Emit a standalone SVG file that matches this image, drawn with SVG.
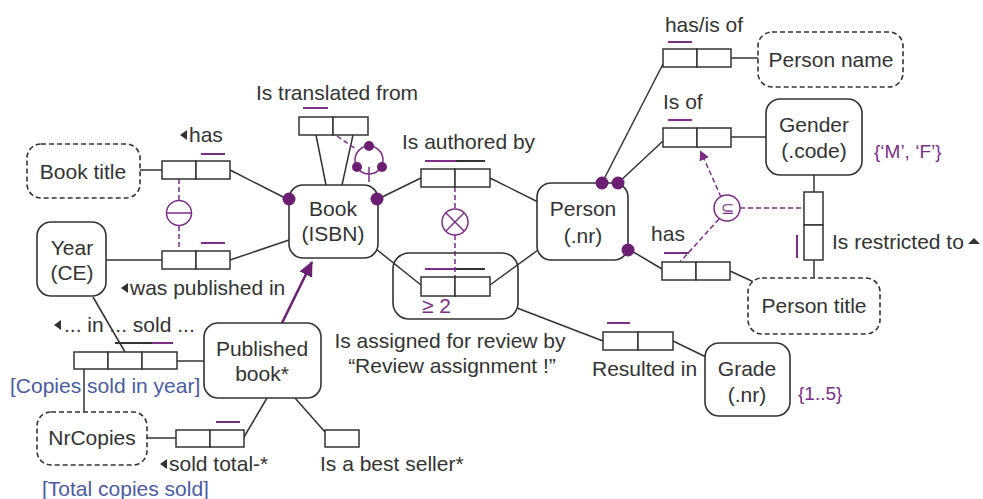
<svg xmlns="http://www.w3.org/2000/svg" width="983" height="499" viewBox="0 0 983 499">
<defs>
<style>
text{font-family:"Liberation Sans",Arial,sans-serif;font-size:21px;fill:#333}
.c{text-anchor:middle}
.p{fill:#7a2f86}
.b{fill:#4a5ba0}
.ent{fill:#fff;stroke:#333;stroke-width:1.6}
.val{fill:#fff;stroke:#333;stroke-width:1.6;stroke-dasharray:5 3}
.role{fill:#fff;stroke:#333;stroke-width:1.5}
.ln{stroke:#333;stroke-width:1.5;fill:none}
.uc{stroke:#7a2f86;stroke-width:2}
.ucb{stroke:#333;stroke-width:2}
.cons{stroke:#7a2f86;stroke-width:1.5;fill:none}
.dash{stroke:#7a2f86;stroke-width:1.5;fill:none;stroke-dasharray:5 3}
.dot{fill:#6b1f70}
</style>
<marker id="ah" markerWidth="10" markerHeight="10" refX="8" refY="5" orient="auto" markerUnits="userSpaceOnUse">
<path d="M0,0 L10,5 L0,10 z" fill="#7a2f86"/>
</marker>
<marker id="ahb" markerWidth="16" markerHeight="16" refX="14" refY="8" orient="auto" markerUnits="userSpaceOnUse">
<path d="M0,1 L15,8 L0,15 z" fill="#6b1f70"/>
</marker>
</defs>
<rect width="983" height="499" fill="#fff"/>

<g id="connectors">
<line class="ln" x1="140" y1="170" x2="162" y2="170"/>
<line class="ln" x1="230" y1="170" x2="287" y2="199"/>
<line class="ln" x1="106" y1="260" x2="162" y2="260"/>
<line class="ln" x1="230" y1="260" x2="289" y2="240"/>
<line class="ln" x1="316" y1="135" x2="326" y2="185"/>
<line class="ln" x1="353" y1="135" x2="342" y2="185"/>
<line class="ln" x1="378" y1="199" x2="421" y2="178"/>
<line class="ln" x1="490" y1="178" x2="538" y2="202"/>
<line class="ln" x1="376" y1="249" x2="421" y2="285"/>
<line class="ln" x1="490" y1="285" x2="538" y2="250"/>
<line class="ln" x1="517" y1="308" x2="603" y2="341"/>
<line class="ln" x1="673" y1="341" x2="706" y2="357"/>
<line class="ln" x1="602" y1="183" x2="663" y2="64"/>
<line class="ln" x1="731" y1="58" x2="758" y2="58"/>
<line class="ln" x1="618" y1="183" x2="663" y2="141"/>
<line class="ln" x1="731" y1="137" x2="766" y2="137"/>
<line class="ln" x1="630" y1="250" x2="662" y2="269"/>
<line class="ln" x1="730" y1="271" x2="756" y2="283"/>
<line class="ln" x1="814" y1="175" x2="814" y2="192"/>
<line class="ln" x1="814" y1="260" x2="814" y2="278"/>
<line class="ln" x1="93" y1="297" x2="125" y2="352"/>
<line class="ln" x1="177" y1="361" x2="204" y2="361"/>
<line class="ln" x1="84" y1="369" x2="84" y2="412"/>
<line class="ln" x1="147" y1="438" x2="176" y2="438"/>
<line class="ln" x1="244" y1="437" x2="267" y2="398"/>
<line class="ln" x1="295" y1="398" x2="325" y2="432"/>
<line x1="282" y1="323" x2="312" y2="262" stroke="#6b1f70" stroke-width="2.5" marker-end="url(#ahb)"/>
<line class="dash" x1="179" y1="179" x2="179" y2="200"/>
<line class="dash" x1="179" y1="226" x2="179" y2="250"/>
<line class="dash" x1="455" y1="187" x2="455" y2="209"/>
<line class="dash" x1="455" y1="235" x2="455" y2="277"/>
<line class="dash" x1="337" y1="136" x2="356" y2="149"/>
<line class="dash" x1="721" y1="197" x2="701" y2="152" marker-end="url(#ah)"/>
<line class="dash" x1="740" y1="208" x2="804" y2="208"/>
<line class="dash" x1="719" y1="219" x2="680" y2="262"/>
</g>

<g id="book-title"><rect class="val" x="27" y="144" width="113" height="54" rx="14"/><text class="c" x="83" y="179">Book title</text></g>
<g id="year"><rect class="ent" x="37" y="222" width="69" height="74" rx="14"/><text class="c" x="72" y="255">Year</text><text class="c" x="72" y="280">(CE)</text></g>
<g id="book"><rect class="ent" x="289" y="185" width="89" height="73" rx="14"/><text class="c" x="333" y="216">Book</text><text class="c" x="333" y="241">(ISBN)</text>
<circle class="dot" cx="289" cy="199" r="6.5"/><circle class="dot" cx="377" cy="199" r="6.5"/></g>
<g id="person"><rect class="ent" x="537" y="183" width="91" height="77" rx="14"/><text class="c" x="583" y="216">Person</text><text class="c" x="583" y="243">(.nr)</text>
<circle class="dot" cx="602" cy="183" r="6.5"/><circle class="dot" cx="618" cy="183" r="6.5"/><circle class="dot" cx="628" cy="250" r="6.5"/></g>
<g id="person-name"><rect class="val" x="758" y="32" width="145" height="55" rx="14"/><text class="c" x="831" y="67">Person name</text></g>
<g id="gender"><rect class="ent" x="766" y="99" width="96" height="76" rx="14"/><text class="c" x="814" y="132">Gender</text><text class="c" x="814" y="158">(.code)</text>
<text class="p" x="874" y="158" style="font-size:19px">{‘M’, ‘F’}</text></g>
<g id="person-title"><rect class="val" x="748" y="278" width="132" height="56" rx="14"/><text class="c" x="814" y="313">Person title</text></g>
<g id="grade"><rect class="ent" x="705" y="343" width="85" height="73" rx="14"/><text class="c" x="747" y="376">Grade</text><text class="c" x="747" y="402">(.nr)</text>
<text class="p" x="798" y="400" style="font-size:19px">{1..5}</text></g>
<g id="published-book"><rect class="ent" x="204" y="323" width="117" height="75" rx="14"/><text class="c" x="262" y="356">Published</text><text class="c" x="262" y="381">book*</text></g>
<g id="nrcopies"><rect class="val" x="37" y="412" width="110" height="53" rx="14"/><text class="c" x="92" y="445">NrCopies</text></g>

<g id="ft-has-title">
<rect class="role" x="162" y="161" width="34" height="18"/><rect class="role" x="196" y="161" width="34" height="18"/>
<line class="uc" x1="201" y1="154" x2="225" y2="154"/>
<polygon points="180,135 187,130 187,140" fill="#333"/><text x="189" y="142">has</text>
</g>
<g id="ft-published-in">
<rect class="role" x="162" y="251" width="34" height="18"/><rect class="role" x="196" y="251" width="34" height="18"/>
<line class="uc" x1="201" y1="243" x2="225" y2="243"/>
<polygon points="121,288 128,283 128,293" fill="#333"/><text x="130" y="295">was published in</text>
</g>
<g id="eq-constraint"><circle class="cons" cx="179" cy="213" r="12.5"/><line class="cons" x1="167" y1="213" x2="191" y2="213"/></g>
<g id="ft-translated">
<rect class="role" x="299" y="117" width="34" height="18"/><rect class="role" x="333" y="117" width="35" height="18"/>
<line class="uc" x1="303" y1="108" x2="328" y2="108"/>
<text class="c" x="337" y="100">Is translated from</text>
</g>
<g id="ring-constraint"><circle class="cons" cx="369" cy="160" r="14"/><line class="cons" x1="369" y1="167" x2="369" y2="182"/>
<circle class="dot" cx="369" cy="146" r="5"/><circle class="dot" cx="357" cy="167" r="5"/><circle class="dot" cx="382" cy="167" r="5"/></g>
<g id="ft-authored">
<rect class="role" x="421" y="169" width="34" height="18"/><rect class="role" x="455" y="169" width="35" height="18"/>
<line class="uc" x1="425" y1="161" x2="456" y2="161"/><line class="ucb" x1="456" y1="161" x2="485" y2="161"/>
<text x="402" y="149">Is authored by</text>
</g>
<g id="excl-constraint"><circle class="cons" cx="455" cy="222" r="13"/><line class="cons" x1="446" y1="213" x2="464" y2="231"/><line class="cons" x1="464" y1="213" x2="446" y2="231"/></g>
<g id="ft-review">
<rect x="393" y="253" width="125" height="66" rx="16" fill="none" stroke="#333" stroke-width="1.6"/>
<rect class="role" x="421" y="277" width="34" height="19"/><rect class="role" x="455" y="277" width="35" height="19"/>
<line class="uc" x1="425" y1="269" x2="456" y2="269"/><line class="ucb" x1="456" y1="269" x2="485" y2="269"/>
<text class="p" x="422" y="313">≥ 2</text>
<text class="c" x="450" y="348">Is assigned for review by</text>
<text class="c" x="452" y="373">“Review assignment !”</text>
</g>
<g id="ft-resulted">
<rect class="role" x="603" y="332" width="35" height="18"/><rect class="role" x="638" y="332" width="35" height="18"/>
<line class="uc" x1="607" y1="323" x2="630" y2="323"/>
<text x="592" y="376">Resulted in</text>
</g>
<g id="ft-name">
<rect class="role" x="663" y="49" width="34" height="18"/><rect class="role" x="697" y="49" width="34" height="18"/>
<line class="uc" x1="668" y1="42" x2="692" y2="42"/>
<text class="c" x="704" y="32">has/is of</text>
</g>
<g id="ft-gender">
<rect class="role" x="663" y="128" width="34" height="19"/><rect class="role" x="697" y="128" width="34" height="19"/>
<line class="uc" x1="668" y1="120" x2="692" y2="120"/>
<text x="663" y="109">Is of</text>
</g>
<g id="ft-title">
<rect class="role" x="662" y="262" width="34" height="18"/><rect class="role" x="696" y="262" width="34" height="18"/>
<line class="uc" x1="664" y1="253" x2="689" y2="253"/>
<text class="c" x="668" y="241">has</text>
</g>
<g id="ft-restricted">
<rect class="role" x="804" y="192" width="19" height="33"/><rect class="role" x="804" y="225" width="19" height="35"/>
<line class="uc" x1="797" y1="235" x2="797" y2="258"/>
<text x="832" y="249">Is restricted to</text><polygon points="968,244 974,238 980,244" fill="#333"/>
</g>
<g id="subset-constraint"><circle class="cons" cx="727" cy="208" r="13"/><text class="p c" x="727" y="214" style="font-size:16px">⊆</text></g>
<g id="ft-sold-in">
<rect class="role" x="74" y="352" width="34" height="17"/><rect class="role" x="108" y="352" width="34" height="17"/><rect class="role" x="142" y="352" width="35" height="17"/>
<line class="ucb" x1="115" y1="343" x2="152" y2="343"/><line class="uc" x1="152" y1="343" x2="173" y2="343"/>
<polygon points="54,325 61,320 61,330" fill="#333"/><text x="64" y="332">... in ... sold ...</text>
<text class="b" x="10" y="393">[Copies sold in year]</text>
</g>
<g id="ft-sold-total">
<rect class="role" x="176" y="430" width="34" height="17"/><rect class="role" x="210" y="430" width="34" height="17"/>
<line class="uc" x1="216" y1="422" x2="240" y2="422"/>
<polygon points="160,464 167,459 167,469" fill="#333"/><text x="169" y="471">sold total-*</text>
<text class="b" x="42" y="496">[Total copies sold]</text>
</g>
<g id="ft-best-seller">
<rect class="role" x="325" y="430" width="34" height="17"/>
<text x="320" y="471">Is a best seller*</text>
</g>
</svg>
